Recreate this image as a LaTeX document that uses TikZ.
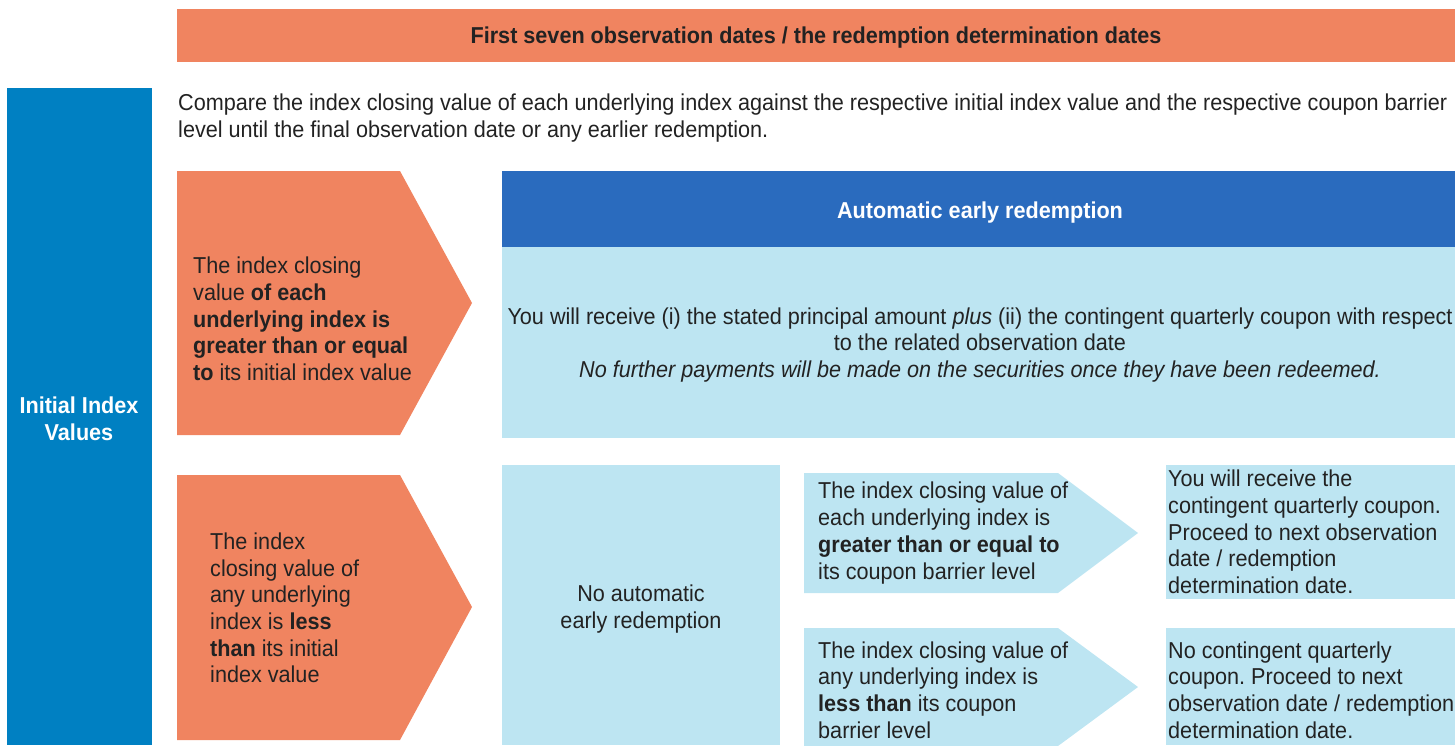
\documentclass[tikz,border=0pt]{standalone}
\usepackage{fontspec}
\setmainfont{Liberation Sans}[FakeStretch=0.94]
\usepackage{xcolor}
\usepackage{tikz}
\usetikzlibrary{positioning}
\frenchspacing

\definecolor{salmon}{HTML}{F08460}
\definecolor{barblue}{HTML}{0080C2}
\definecolor{headblue}{HTML}{2A6BBE}
\definecolor{paleblue}{HTML}{BDE5F2}
\definecolor{inktext}{HTML}{222222}

\begin{document}
\begin{tikzpicture}[
  x=1pt, y=-1pt,
  font=\fontsize{23}{26.7}\selectfont,
  every node/.style={text=inktext, inner sep=0pt},
  leftbox/.style={align=left, anchor=west},
  midbox/.style={align=center},
  whitelabel/.style={align=center, text=white, font=\fontsize{23}{27}\selectfont\bfseries}
]
  \useasboundingbox (0,0) rectangle (1455,745);

  % background shapes
  \fill[salmon] (177,9) rectangle (1455,62);
  \fill[barblue] (7,88) rectangle (152,745);
  \fill[salmon] (177,171) -- (400,171) -- (472,303) -- (400,435) -- (177,435) -- cycle;
  \fill[salmon] (177,475) -- (400,475) -- (472,607) -- (400,740) -- (177,740) -- cycle;
  \fill[headblue] (502,171) rectangle (1455,247);
  \fill[paleblue] (502,247) rectangle (1455,438);
  \fill[paleblue] (502,465) rectangle (780,745);
  \fill[paleblue] (804,473) -- (1058,473) -- (1138,533) -- (1058,593) -- (804,593) -- cycle;
  \fill[paleblue] (804,628) -- (1058,628) -- (1138,687) -- (1058,746) -- (804,746) -- cycle;
  \fill[paleblue] (1166,465) rectangle (1455,599);
  \fill[paleblue] (1166,628) rectangle (1455,745);

  % texts
  \node[font=\fontsize{23}{27}\selectfont\bfseries] (banner) at (816,38) {First seven observation dates / the redemption determination dates};
  \node[whitelabel] (initial) at (79,419) {Initial Index\\Values};
  \node[leftbox] (compare) at (178,118) {Compare the index closing value of each underlying index against the respective initial index value and the respective coupon barrier\\level until the final observation date or any earlier redemption.};

  \node[leftbox] (upcond) at (193,319) {The index closing\\value \textbf{of each}\\\textbf{underlying index is}\\\textbf{greater than or equal}\\\textbf{to} its initial index value};
  \node[whitelabel] (autohead) at (980,213) {Automatic early redemption};
  \node[midbox] (autobody) at (980,345) {You will receive (i) the stated principal amount \emph{plus} (ii) the contingent quarterly coupon with respect\\to the related observation date\\\emph{No further payments will be made on the securities once they have been redeemed.}};

  \node[leftbox] (downcond) at (210,608) {The index\\closing value of\\any underlying\\index is \textbf{less}\\\textbf{than} its initial\\index value};
  \node[midbox] (noauto) at (641,609) {No automatic\\early redemption};

  \node[leftbox] (abovebar) at (818,533) {The index closing value of\\each underlying index is\\\textbf{greater than or equal to}\\its coupon barrier level};
  \node[leftbox] (belowbar) at (818,690) {The index closing value of\\any underlying index is\\\textbf{less than} its coupon\\barrier level};

  \node[leftbox] (paycoupon) at (1168,532) {You will receive the\\contingent quarterly coupon.\\Proceed to next observation\\date / redemption\\determination date.};
  \node[leftbox] (nocoupon) at (1168,690) {No contingent quarterly\\coupon. Proceed to next\\observation date / redemption\\determination date.};
\end{tikzpicture}
\end{document}
